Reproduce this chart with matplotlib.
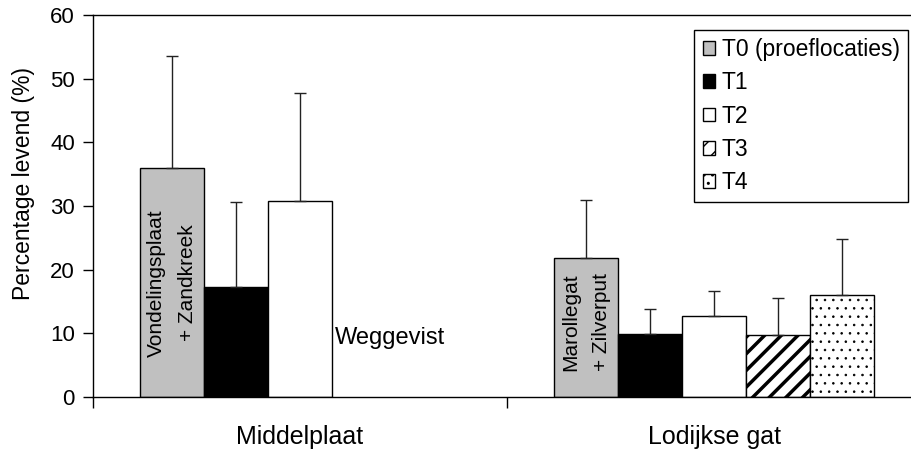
import numpy as np
import matplotlib
matplotlib.use("Agg")
import matplotlib.pyplot as plt

plt.rcParams['font.family'] = ['Liberation Sans', 'DejaVu Sans']

# data
locaties = ["Middelplaat", "Lodijkse gat"]
reeksen = ["T0 (proeflocaties)", "T1", "T2", "T3", "T4"]
# rows = series, cols = locations (nan = no data)
levend = np.array([
    [35.9, 21.9],
    [17.3, 9.9],
    [30.8, 12.8],
    [np.nan, 9.7],
    [np.nan, 16.0],
])
fout = np.array([
    [17.6, 9.0],
    [13.3, 4.0],
    [16.9, 3.8],
    [np.nan, 5.9],
    [np.nan, 8.8],
])

kleuren = ["#c0c0c0", "black", "white", "white", "white"]
arceringen = [None, None, None, "//", ".."]
hatch_lw = [1.0, 1.0, 1.0, 2.5, 0.6]

fig = plt.figure(figsize=(9.11, 4.54), dpi=100)
ax = fig.add_axes([93 / 911, 57 / 454, 828 / 911, 382 / 454])

x = np.arange(len(locaties))
w = 0.1546
for i, naam in enumerate(reeksen):
    pos = x + (i - 2) * w
    with plt.rc_context({'hatch.linewidth': hatch_lw[i]}):
        ax.bar(pos, levend[i], width=w, color=kleuren[i], edgecolor="black",
               linewidth=1.0, hatch=arceringen[i], label=naam, zorder=2)
    ok = ~np.isnan(levend[i])
    ax.errorbar(pos[ok], levend[i][ok],
                yerr=[np.zeros(ok.sum()), fout[i][ok]],
                fmt="none", ecolor="#222222", elinewidth=1.0,
                capsize=4, capthick=1.0, zorder=3)

# text in and next to the bars
ax.text(x[0] - 2 * w, 17.9, "Vondelingsplaat\n+ Zandkreek", rotation=90,
        ha="center", va="center", multialignment="center", fontsize=15,
        linespacing=1.75, zorder=4)
ax.text(x[1] - 2 * w, 11.8, "Marollegat\n+ Zilverput", rotation=90,
        ha="center", va="center", multialignment="center", fontsize=15,
        linespacing=1.75, zorder=4)
ax.text(0.217, 9.3, "Weggevist", ha="center", va="center", fontsize=17)

ax.set_xlim(-0.5, 1.5)
ax.set_ylim(0, 60)
ax.set_yticks(np.arange(0, 61, 10))
ax.tick_params(axis="y", direction="out", length=7, width=1, labelsize=16, pad=6)
ax.set_xticks(x)
ax.set_xticklabels(locaties)
ax.set_xticks([-0.5, 0.5, 1.5], minor=True)
ax.tick_params(axis="x", which="major", length=0, labelsize=18, pad=20)
ax.tick_params(axis="x", which="minor", length=8, width=1)
ax.set_ylabel("Percentage levend (%)", fontsize=16.5)
ax.yaxis.set_label_coords((35 - 93) / 828, (397 - 183) / 382)
for s in ax.spines.values():
    s.set_linewidth(1.0)

leg = ax.legend(loc="upper right", bbox_to_anchor=(908 / 911, 1 - 30 / 454),
                bbox_transform=fig.transFigure, fontsize=16.5, frameon=True,
                fancybox=False, framealpha=1, edgecolor="black",
                handlelength=0.55, handleheight=0.55, handletextpad=0.3,
                labelspacing=0.45, borderpad=0.35, borderaxespad=0)
leg.get_frame().set_linewidth(1.0)

fig.savefig("out.png", dpi=100)
